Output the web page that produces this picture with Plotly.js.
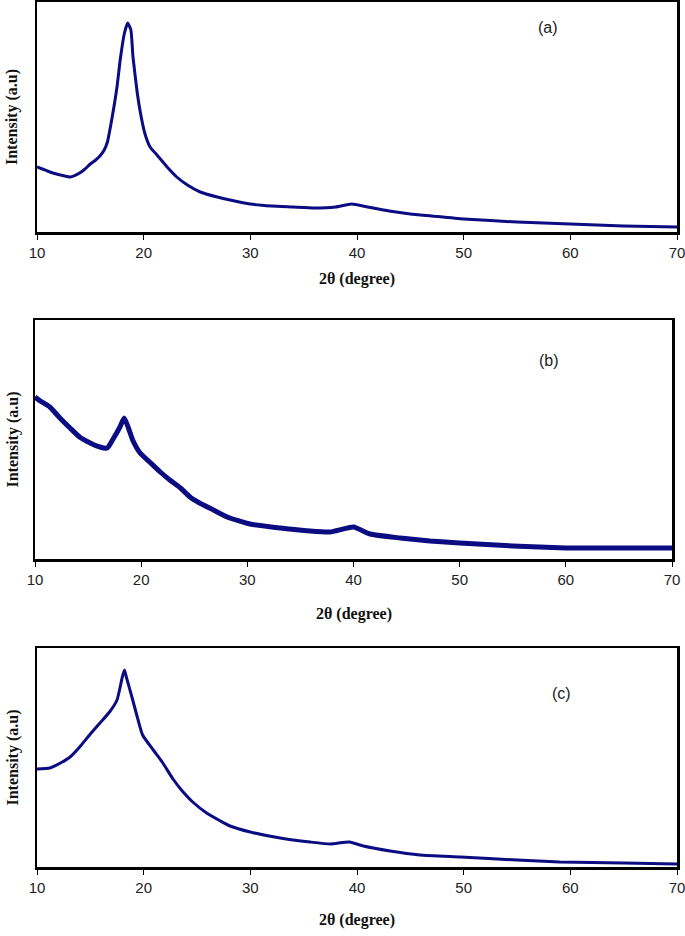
<!DOCTYPE html>
<html>
<head>
<meta charset="utf-8">
<script src="https://cdn.plot.ly/plotly-3.0.1.min.js"></script>
<style>html,body{margin:0;padding:0;background:#fff;}#plot{width:685px;height:936px;}</style>
</head>
<body>
<div id="plot"></div>
<script>
// Panel (a)
const xA = [10.0,10.5,11.2,12.2,13.1,14.0,14.5,15.0,15.5,15.9,16.3,16.6,17.0,17.5,17.8,18.2,18.5,18.8,19.0,19.4,19.7,20.1,20.6,21.25,22.2,23.1,24.1,25.3,26.9,28.1,30,32,34,36,38,39.5,41,43,45,47,50,55,60,65,70];
const yA = [65,63,60,57,55,59,63,68,72,76,82,90,112,145,172,199,209,202,175,139,119,99,85,77,65,55,47,40,35,32,28,26,25,24,25,28,25,21,18,16,13,10,8,6,5];
// Panel (b)
const xB = [10.0,10.5,11.4,12.35,13.3,14.2,15.2,16.1,16.8,17.3,18.0,18.4,18.8,19.2,19.9,20.8,21.8,22.7,23.7,24.6,25.5,26.8,28.1,30.25,33.1,35.9,37.8,40.0,41.55,44.4,47.2,50,55,60,65,70];
const yB = [162,158,152,141,131,122,116,112,111,119,132,141,131,119,106,97,87,79,71,62,56,49,42,35,31,28,27,32,25,21,18,16,13,11,11,11];
// Panel (c)
const xC = [10.0,11.2,12.2,13.1,14.0,15.0,15.9,16.8,17.5,18.0,18.2,18.4,18.9,19.4,19.9,20.9,21.8,22.75,23.7,24.6,25.9,27.2,28.1,30,32.8,35.6,37.5,39.3,40.6,43.1,45.9,49.7,55,59,65,70];
const yC = [98,99,104,110,120,133,144,155,167,190,197,189,170,150,132,117,104,88,75,65,54,46,41,35,29,25,23,25,21,16,12,10,7,5,4,3];

const xTicks = [10,20,30,40,50,60,70];
const panelLabels = ['(a)','(b)','(c)'];
const xTitle = '2θ (degree)';
const yTitle = 'Intensity (a.u)';

const lineColor = '#0b0b82';
function trace(x, y, ax, w){
  return {x:x, y:y, xaxis:'x'+ax, yaxis:'y'+ax, type:'scatter', mode:'lines',
    line:{color:lineColor, width:w, shape:'spline', smoothing:0.5}, hoverinfo:'none'};
}
const data = [trace(xA,yA,'',3), trace(xB,yB,'2',5), trace(xC,yC,'3',3)];

const W=685, H=936;
function xd(l,r){return [l/W, r/W];}
function yd(top,bot){return [(H-bot)/H, (H-top)/H];}

function xaxis(dom, anchor){
  return {domain:dom, anchor:anchor, range:[10,70], tickvals:xTicks, ticktext:xTicks.map(String),
    showline:true, mirror:true, linecolor:'#000', linewidth:2.5, ticks:'outside', ticklen:5, tickwidth:1, tickcolor:'#000',
    ticklabelstandoff:0, ticklabeloverflow:'allow',
    showgrid:false, zeroline:false, tickfont:{family:'Arial, Liberation Sans, sans-serif', size:15, color:'#222'}};
}
function yaxis(dom, anchor, top){
  return {domain:dom, anchor:anchor, range:[0,top], showline:true, mirror:true, linecolor:'#000', linewidth:2.5,
    showticklabels:false, ticks:'', showgrid:false, zeroline:false};
}

const pA = {l:37,r:677,t:2,b:232};
const pB = {l:35,r:672,t:320,b:559};
const pC = {l:37,r:677,t:648,b:867};

const layout = {
  width:W, height:H, margin:{l:0,r:0,t:0,b:0}, paper_bgcolor:'#fff', plot_bgcolor:'#fff', showlegend:false,
  xaxis: xaxis(xd(pA.l,pA.r),'y'),
  yaxis: yaxis(yd(pA.t,pA.b),'x',230),
  xaxis2: xaxis(xd(pB.l,pB.r),'y2'),
  yaxis2: yaxis(yd(pB.t,pB.b),'x2',239),
  xaxis3: xaxis(xd(pC.l,pC.r),'y3'),
  yaxis3: yaxis(yd(pC.t,pC.b),'x3',219),
  annotations: []
};
const panels=[pA,pB,pC];
const labelPos=[[548,27],[549,361],[561,693]];
const titleY=[279,614,920];
panels.forEach((p,i)=>{
  layout.annotations.push({xref:'paper',yref:'paper',x:labelPos[i][0]/W,y:(H-labelPos[i][1])/H,xanchor:'center',yanchor:'middle',
    text:panelLabels[i],showarrow:false,font:{family:'Arial, Liberation Sans, sans-serif',size:16,color:'#222'}});
  layout.annotations.push({xref:'paper',yref:'paper',x:((p.l+p.r)/2)/W,y:(H-titleY[i])/H,xanchor:'center',yanchor:'middle',
    text:'<b>'+xTitle+'</b>',showarrow:false,font:{family:'Liberation Serif, Times New Roman, serif',size:16,color:'#111'}});
  layout.annotations.push({xref:'paper',yref:'paper',x:12/W,y:(H-(p.t+p.b)/2)/H,xanchor:'center',yanchor:'middle',textangle:-90,
    text:'<b>'+yTitle+'</b>',showarrow:false,font:{family:'Liberation Serif, Times New Roman, serif',size:16,color:'#111'}});
});

Plotly.newPlot('plot', data, layout, {staticPlot:true, displayModeBar:false});
</script>
</body>
</html>
